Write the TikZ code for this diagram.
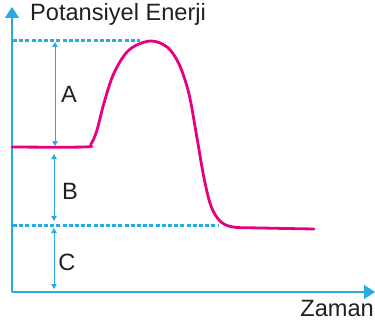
\documentclass[tikz,border=0pt]{standalone}
\usepackage{fontspec}
\setmainfont{Liberation Sans}
\usetikzlibrary{positioning, arrows.meta, calc}
\definecolor{axisblue}{HTML}{29ABE2}
\definecolor{curvepink}{HTML}{E6007E}
\definecolor{textgray}{HTML}{231F20}

\begin{document}
\begin{tikzpicture}[x=1pt, y=-1pt,
    axisline/.style={color=axisblue, line width=1.6pt, -{Triangle[length=11pt, width=14pt]}},
    levelline/.style={color=axisblue, line width=3pt, dash pattern=on 4pt off 2.2pt},
    gapline/.style={color=axisblue, line width=0.9pt, {Triangle[length=5pt, width=5.5pt]}-{Triangle[length=5pt, width=5.5pt]}},
    lbl/.style={text=textgray, inner sep=0pt, font=\fontsize{23.6}{28}\selectfont}]
        \useasboundingbox (0,0) rectangle (375,329);
        % axes
        \coordinate (O) at (12,292);
        \coordinate (ytip) at (12,7);
        \coordinate (xtip) at (375,292);
        \draw[axisline] (O)--(ytip);
        \draw[axisline] (O)--(xtip);
        \node[lbl, anchor=base west] (ylabel) at (30,21) {Potansiyel Enerji};
        \node[lbl, anchor=base east] (xlabel) at (374,316) {Zaman};
        % energy levels
        \coordinate (top) at (13,41);   \coordinate (topend) at (140,41);
        \coordinate (prod) at (13,225); \coordinate (prodend) at (218,225);
        \draw[levelline] (top)--(topend);
        \draw[levelline] (prod)--(prodend);
        % reaction curve
        \draw[color=curvepink, line width=2.8pt, line cap=round] plot[smooth, tension=0.55] coordinates
            {(12,147) (84,147) (91,144) (97,130) (104,103) (114,73) (129,50) (150,41) (167,47) (179,64) (189,94) (197,138) (204,178) (211,206) (220,221) (233,227) (262,228) (314,229)};
        % gaps
        \coordinate (a1) at (55,42);  \coordinate (a2) at (55,146);
        \coordinate (b1) at (54,154); \coordinate (b2) at (54,221);
        \coordinate (c1) at (54,228); \coordinate (c2) at (54,289);
        \draw[gapline] (a1)--(a2);
        \draw[gapline] (b1)--(b2);
        \draw[gapline] (c1)--(c2);
        \node[lbl] (A) at (69,94) {A};
        \node[lbl] (B) at (70,191) {B};
        \node[lbl] (C) at (67,262) {C};
\end{tikzpicture}
\end{document}
